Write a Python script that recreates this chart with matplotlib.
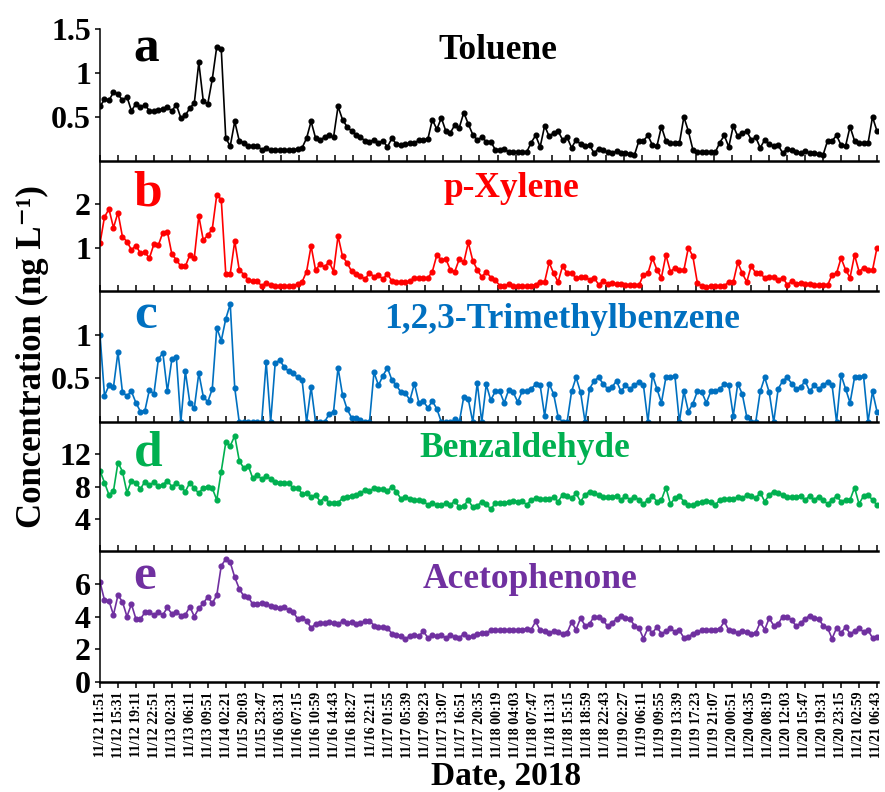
import matplotlib
matplotlib.use("Agg")
import matplotlib.pyplot as plt
import numpy as np

plt.rcParams['font.family'] = ['Liberation Serif', 'DejaVu Serif']
plt.rcParams['font.weight'] = 'bold'

tick_labels = [
    "11/12 11:51", "11/12 15:31", "11/12 19:11", "11/12 22:51", "11/13 02:31",
    "11/13 06:11", "11/13 09:51", "11/14 02:21", "11/15 20:03", "11/15 23:47",
    "11/16 03:31", "11/16 07:15", "11/16 10:59", "11/16 14:43", "11/16 18:27",
    "11/16 22:11", "11/17 01:55", "11/17 05:39", "11/17 09:23", "11/17 13:07",
    "11/17 16:51", "11/17 20:35", "11/18 00:19", "11/18 04:03", "11/18 07:47",
    "11/18 11:31", "11/18 15:15", "11/18 18:59", "11/18 22:43", "11/19 02:27",
    "11/19 06:11", "11/19 09:55", "11/19 13:39", "11/19 17:23", "11/19 21:07",
    "11/20 00:51", "11/20 04:35", "11/20 08:19", "11/20 12:03", "11/20 15:47",
    "11/20 19:31", "11/20 23:15", "11/21 02:59", "11/21 06:43",
]

toluene = [
    0.62, 0.70, 0.69, 0.78, 0.76, 0.69, 0.73, 0.57, 0.65, 0.61,
    0.64, 0.57, 0.57, 0.58, 0.59, 0.61, 0.57, 0.64, 0.49, 0.52,
    0.60, 0.66, 1.12, 0.68, 0.65, 0.93, 1.30, 1.27, 0.26, 0.17,
    0.45, 0.23, 0.21, 0.17, 0.17, 0.17, 0.13, 0.15, 0.12, 0.12,
    0.12, 0.12, 0.12, 0.12, 0.14, 0.15, 0.26, 0.45, 0.26, 0.24,
    0.27, 0.29, 0.27, 0.62, 0.47, 0.39, 0.34, 0.30, 0.27, 0.23,
    0.22, 0.24, 0.21, 0.23, 0.16, 0.26, 0.19, 0.18, 0.19, 0.20,
    0.20, 0.24, 0.24, 0.25, 0.47,
    0.36, 0.49, 0.34, 0.32, 0.41, 0.38, 0.55, 0.42, 0.30, 0.24,
    0.27, 0.22, 0.22, 0.13, 0.13, 0.14, 0.10, 0.10, 0.10, 0.10,
    0.10, 0.21, 0.29, 0.16, 0.40, 0.28, 0.32, 0.34, 0.24, 0.27,
    0.15, 0.24, 0.19, 0.17, 0.18, 0.09, 0.14, 0.12, 0.10, 0.09,
    0.11, 0.09, 0.09, 0.08, 0.07, 0.23, 0.23, 0.29, 0.18, 0.17,
    0.39, 0.23, 0.20, 0.20, 0.20, 0.50, 0.34, 0.13, 0.10, 0.10,
    0.10, 0.10, 0.10, 0.21, 0.29, 0.16, 0.40, 0.28, 0.32, 0.34,
    0.24, 0.27, 0.15, 0.24, 0.19, 0.17, 0.18, 0.09, 0.14, 0.12,
    0.10, 0.09, 0.11, 0.09, 0.09, 0.08, 0.07, 0.23, 0.23, 0.29,
    0.18, 0.17, 0.39, 0.23, 0.20, 0.20, 0.20, 0.50, 0.34,
]

p_xylene = [
    1.10, 1.71, 1.89, 1.46, 1.81, 1.25, 1.14, 0.95, 1.05, 0.87,
    0.89, 0.76, 1.08, 1.06, 1.35, 1.37, 0.85, 0.72, 0.57, 0.57,
    0.83, 0.77, 1.73, 1.17, 1.29, 1.43, 2.22, 2.11, 0.40, 0.40,
    1.15, 0.49, 0.38, 0.26, 0.22, 0.22, 0.12, 0.18, 0.13, 0.11,
    0.12, 0.11, 0.11, 0.12, 0.16, 0.21, 0.45, 1.04, 0.48, 0.62,
    0.55, 0.68, 0.45, 1.27, 0.80, 0.65, 0.46, 0.40, 0.35, 0.27,
    0.42, 0.33, 0.37, 0.27, 0.40, 0.22, 0.21, 0.21, 0.21, 0.22,
    0.31, 0.29, 0.29, 0.30, 0.45,
    0.83, 0.72, 0.74, 0.49, 0.45, 0.74, 0.66, 1.12, 0.70, 0.49,
    0.32, 0.45, 0.31, 0.26, 0.12, 0.11, 0.16, 0.11, 0.11, 0.11,
    0.11, 0.12, 0.15, 0.21, 0.21, 0.66, 0.41, 0.21, 0.58, 0.41,
    0.41, 0.30, 0.32, 0.32, 0.26, 0.31, 0.15, 0.22, 0.17, 0.19,
    0.16, 0.17, 0.13, 0.13, 0.13, 0.13, 0.38, 0.41, 0.76, 0.49,
    0.31, 0.83, 0.45, 0.53, 0.48, 0.48, 1.00, 0.80, 0.19, 0.11,
    0.09, 0.11, 0.11, 0.12, 0.12, 0.21, 0.21, 0.66, 0.41, 0.21,
    0.58, 0.41, 0.41, 0.30, 0.32, 0.32, 0.26, 0.31, 0.15, 0.22,
    0.17, 0.19, 0.16, 0.17, 0.13, 0.13, 0.13, 0.13, 0.38, 0.41,
    0.76, 0.49, 0.31, 0.83, 0.45, 0.53, 0.48, 0.48, 1.00,
]

trimethylbenzene = [
    1.00, 0.30, 0.42, 0.40, 0.80, 0.34, 0.30, 0.35, 0.22, 0.12,
    0.13, 0.37, 0.32, 0.72, 0.79, 0.35, 0.72, 0.74, 0.00, 0.58,
    0.22, 0.16, 0.56, 0.29, 0.23, 0.38, 1.08, 0.93, 1.18, 1.35,
    0.39, 0.00, 0.00, 0.00, 0.00, 0.00, 0.00, 0.69, 0.00, 0.67,
    0.71, 0.63, 0.58, 0.56, 0.51, 0.48, 0.00, 0.40, 0.00, 0.00,
    0.00, 0.09, 0.12, 0.62, 0.31, 0.15, 0.05, 0.05, 0.02, 0.00,
    0.00, 0.57, 0.42, 0.53, 0.62, 0.48, 0.42, 0.34, 0.33, 0.25,
    0.44, 0.22, 0.24, 0.16, 0.24, 0.15, 0.00, 0.00, 0.00, 0.03,
    0.00, 0.29, 0.26, 0.00, 0.45, 0.00, 0.43, 0.25, 0.35, 0.35,
    0.22, 0.37, 0.34, 0.23, 0.35, 0.35, 0.38, 0.43, 0.42, 0.07,
    0.44, 0.32, 0.06, 0.00, 0.00, 0.35, 0.51, 0.34, 0.00, 0.38,
    0.47, 0.51, 0.44, 0.38, 0.40, 0.47, 0.35, 0.42, 0.38, 0.42,
    0.46, 0.42, 0.00, 0.54, 0.38, 0.22, 0.51, 0.51, 0.53, 0.00,
    0.35, 0.12, 0.21, 0.35, 0.34, 0.22, 0.35, 0.35, 0.38, 0.43,
    0.42, 0.07, 0.44, 0.32, 0.06, 0.00, 0.00, 0.35, 0.51, 0.34,
    0.00, 0.38, 0.47, 0.51, 0.44, 0.38, 0.40, 0.47, 0.35, 0.42,
    0.38, 0.42, 0.46, 0.42, 0.00, 0.54, 0.38, 0.22, 0.51, 0.51,
    0.53, 0.00, 0.35, 0.12,
]

benzaldehyde = [
    9.94, 8.49, 6.96, 7.45, 10.97, 9.86, 7.25, 8.70, 8.49, 7.70,
    8.61, 8.20, 8.53, 8.07, 8.20, 8.74, 7.99, 8.41, 7.99, 7.37,
    8.49, 7.78, 7.16, 7.87, 7.99, 7.78, 6.34, 9.86, 13.46, 13.04,
    14.29, 11.22, 10.27, 10.60, 9.03, 9.44, 8.90, 9.32, 8.90, 8.61,
    8.49, 8.41, 8.49, 7.78, 7.87, 7.08, 7.16, 6.75, 6.96, 6.13,
    6.63, 6.00, 6.00, 6.00, 6.54, 6.75, 6.87, 6.96, 7.16, 7.58,
    7.45, 7.78, 7.70, 7.70, 7.45, 7.99, 7.37, 6.46, 6.75, 6.46,
    6.34, 6.34, 6.21, 5.71, 5.92, 5.71, 5.71, 5.92, 5.71, 6.21,
    5.42, 5.59, 6.34, 5.42, 5.59, 6.13, 5.84, 5.18, 5.92, 5.92,
    5.92, 6.13, 6.25, 6.13, 6.25, 5.71, 6.34, 6.54, 6.46, 6.46,
    6.46, 6.67, 6.13, 6.96, 6.83, 6.54, 7.16, 6.13, 6.96, 7.37,
    7.16, 6.96, 6.67, 6.75, 6.67, 6.83, 6.34, 6.83, 6.34, 6.75,
    6.34, 5.84, 6.34, 6.83, 6.13, 6.34, 7.87, 5.84, 6.54, 6.83,
    6.13, 5.71, 5.71, 5.92, 6.13, 6.25, 6.13, 5.71, 6.34, 6.46,
    6.46, 6.46, 6.67, 6.54, 6.96, 6.83, 6.54, 7.25, 6.13, 6.96,
    7.37, 7.16, 6.96, 6.67, 6.75, 6.67, 6.83, 6.34, 6.83, 6.34,
    6.75, 6.34, 5.84, 6.34, 6.83, 6.13, 6.34, 6.34, 7.87, 5.84,
    6.83, 6.96, 6.34, 5.71,
]

acetophenone = [
    6.10, 5.00, 4.95, 4.10, 5.30, 4.90, 4.00, 4.75, 3.85, 3.85,
    4.25, 4.25, 4.10, 4.25, 4.10, 4.55, 4.15, 4.30, 4.05, 4.10,
    4.60, 4.00, 4.50, 4.80, 5.20, 4.80, 5.30, 7.10, 7.50, 7.30,
    6.40, 5.70, 5.25, 5.20, 4.75, 4.75, 4.80, 4.75, 4.65, 4.55,
    4.50, 4.55, 4.40, 4.30, 3.85, 3.90, 3.75, 3.30, 3.55, 3.60,
    3.60, 3.65, 3.60, 3.55, 3.70, 3.60, 3.65, 3.55, 3.60, 3.70,
    3.75, 3.45, 3.35, 3.35, 3.30, 2.95, 2.90, 2.80, 2.65, 2.80,
    2.85, 2.80, 3.10, 2.70, 2.85, 2.80, 2.85, 2.70, 2.85, 2.75,
    2.70, 2.95, 2.75, 2.80, 2.95, 3.00, 3.00, 3.15, 3.15, 3.15,
    3.20, 3.15, 3.20, 3.15, 3.20, 3.25, 3.20, 3.70, 3.15, 3.10,
    3.00, 3.10, 3.05, 2.95, 3.00, 3.65, 3.20, 3.90, 3.45, 3.55,
    4.00, 3.95, 3.80, 3.40, 3.60, 3.85, 4.05, 3.90, 3.85, 3.45,
    3.30, 2.65, 3.30, 3.00, 3.35, 2.95, 3.10, 3.30, 3.05, 3.15,
    2.70, 2.75, 2.95, 3.05, 3.15, 3.15, 3.15, 3.20, 3.25, 3.70,
    3.15, 3.10, 3.00, 3.10, 3.05, 2.95, 3.00, 3.65, 3.20, 3.90,
    3.45, 3.55, 4.00, 3.95, 3.80, 3.40, 3.60, 3.85, 4.05, 3.90,
    3.85, 3.45, 3.30, 2.65, 3.30, 3.00, 3.35, 2.95, 3.10, 3.30,
    3.05, 3.15, 2.70, 2.75,
]

series = [toluene, p_xylene, trimethylbenzene, benzaldehyde, acetophenone]
names = ["Toluene", "p-Xylene", "1,2,3-Trimethylbenzene", "Benzaldehyde", "Acetophenone"]
letters = ["a", "b", "c", "d", "e"]
colors = ["#000000", "#FF0000", "#0070C0", "#00B050", "#7030A0"]
ylims = [(0, 1.5), (0, 3), (0, 1.5), (0, 16), (0, 8)]
yticks = [[0.5, 1, 1.5], [1, 2], [0.5, 1], [4, 8, 12], [0, 2, 4, 6]]
ytick_text = [["0.5", "1", "1.5"], ["1", "2"], ["0.5", "1"], ["4", "8", "12"], ["0", "2", "4", "6"]]

W, H = 885, 792
fig = plt.figure(figsize=(W / 100, H / 100), dpi=100)

left_px, right_px = 100, 878
tops = [29, 161, 291, 422, 551]
bots = [161, 291, 422, 551, 682]
title_pos = [(498, 59), (511, 197), (562, 328), (525, 457), (530, 588)]
letter_pos = [(146, 62), (148, 205), (146, 328), (148, 465), (145, 589)]

for k in range(5):
    ax = fig.add_axes([left_px / W, 1 - bots[k] / H, (right_px - left_px) / W, (bots[k] - tops[k]) / H])
    y = series[k]
    x = np.arange(len(y))
    ax.plot(x, y, color=colors[k], lw=1.2, marker='o', ms=3.4, mec=colors[k], mfc=colors[k])
    n = len(y)
    ax.set_xlim(0, (n - 1) * (right_px - left_px) / (877 - left_px))
    ax.set_ylim(*ylims[k])
    ax.set_yticks(yticks[k])
    ax.set_yticklabels(ytick_text[k], fontsize=23, fontweight='bold')
    xt = np.linspace(0, n - 1, len(tick_labels))
    ax.set_xticks(xt)
    for s in ['top', 'right']:
        ax.spines[s].set_visible(False)
    ax.spines['left'].set_linewidth(1.1)
    ax.spines['bottom'].set_linewidth(1.8)
    ax.tick_params(axis='y', direction='out', length=3.5, width=1.1, pad=3)
    if k < 4:
        ax.tick_params(axis='x', direction='in', length=4, width=1.1, labelbottom=False)
    else:
        ax.tick_params(axis='x', direction='out', length=4, width=1.1, pad=3)
        ax.set_xticklabels(tick_labels, rotation=90, fontsize=10, fontweight='bold')
    ax.patch.set_alpha(0)
    tx, ty = title_pos[k]
    fig.text(tx / W, 1 - ty / H, names[k], color=colors[k], fontsize=25.5,
             fontweight='bold', ha='center', va='baseline')
    lx, ly = letter_pos[k]
    fig.text(lx / W, 1 - ly / H, letters[k], color=colors[k], fontsize=37,
             fontweight='bold', ha='center', va='baseline')

fig.text(32 / W, 1 - 357 / H, "Concentration (ng L\u207b\u00b9)", rotation=90,
         fontsize=25, fontweight='bold', ha='center', va='center')
fig.text(506 / W, 1 - 785 / H, "Date, 2018", fontsize=24, fontweight='bold',
         ha='center', va='baseline')

fig.savefig("out.png", dpi=100)
